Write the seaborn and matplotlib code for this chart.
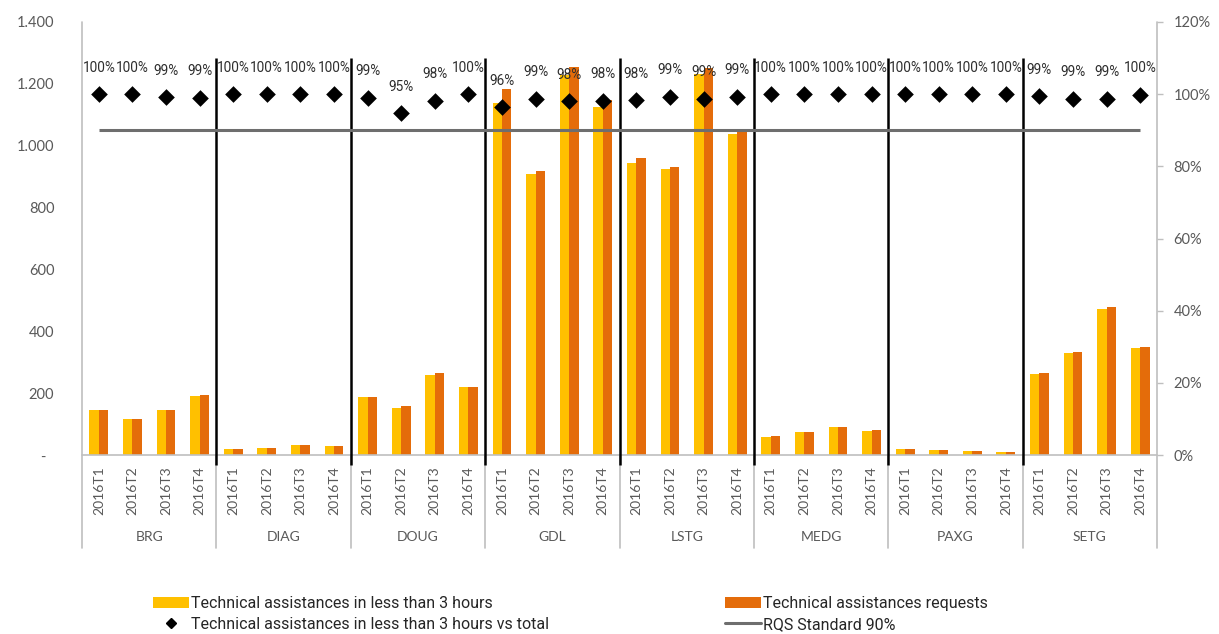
import matplotlib
matplotlib.use("Agg")
import matplotlib.pyplot as plt
from matplotlib.lines import Line2D
from matplotlib.patches import Patch
import matplotlib.transforms as mtransforms
import numpy as np
import pandas as pd
import seaborn as sns

# ---- data ----
groups = ["BRG", "DIAG", "DOUG", "GDL", "LSTG", "MEDG", "PAXG", "SETG"]
quarters = ["2016T1", "2016T2", "2016T3", "2016T4"]

within_3h = [145, 118, 145, 191,
             19, 22, 31, 29,
             187, 152, 258, 221,
             1137, 908, 1228, 1126,
             943, 925, 1232, 1038,
             59, 75, 90, 79,
             19, 16, 14, 11,
             262, 329, 472, 347]

requests = [145, 118, 146, 194,
            19, 22, 31, 29,
            189, 160, 264, 221,
            1182, 918, 1255, 1148,
            959, 932, 1250, 1045,
            60, 76, 91, 80,
            19, 16, 14, 11,
            265, 332, 478, 348]

share_3h = [1.000, 1.000, 0.992, 0.990,
            1.000, 1.000, 1.000, 1.000,
            0.990, 0.947, 0.982, 1.000,
            0.964, 0.988, 0.981, 0.982,
            0.984, 0.993, 0.988, 0.993,
            1.000, 1.000, 1.000, 1.000,
            1.000, 1.000, 1.000, 1.000,
            0.994, 0.988, 0.987, 0.999]

rqs_standard = 0.90

label_within = "Technical assistances in less than 3 hours"
label_requests = "Technical assistances requests"
label_share = "Technical assistances in less than 3 hours vs total"
label_rqs = "RQS Standard 90%"

c_yellow = "#FFC000"
c_orange = "#E46C0A"
txt_col = "#595959"
axis_grey = "#BFBFBF"
rqs_grey = "#6E6E6E"
narrow = ["Roboto", "DejaVu Sans"]

sns.set_theme(style="white")
plt.rcParams["font.family"] = ["Lato", "DejaVu Sans"]

cats = [f"{g}|{q}" for g in groups for q in quarters]
n = len(cats)
pos = np.arange(n)

df = pd.DataFrame({
    "cat": cats * 2,
    "value": within_3h + requests,
    "series": [label_within] * n + [label_requests] * n,
})

fig = plt.figure(figsize=(12.19, 6.34), dpi=100)
ax = fig.add_axes([0.0673, 0.2823, 0.8819, 0.683])

sns.barplot(data=df, x="cat", y="value", hue="series", order=cats,
            hue_order=[label_within, label_requests],
            palette=[c_yellow, c_orange], saturation=1, width=0.56,
            linewidth=0, legend=False, ax=ax)

ax.set_ylim(0, 1400)
ax.set_xlim(-0.5, n - 0.5)
ax.set_xlabel("")
ax.set_ylabel("")
for s in ax.spines.values():
    s.set_visible(False)

yt = np.arange(0, 1401, 200)
ax.set_yticks(yt)
ax.set_yticklabels(["-  "] + [f"{v:,}".replace(",", ".") for v in yt[1:]])
ax.tick_params(axis="y", length=0, pad=20, labelsize=10.5, labelcolor=txt_col)
ax.set_xticks(pos)
ax.set_xticklabels(quarters * len(groups), rotation=90)
ax.tick_params(axis="x", length=0, pad=8, labelsize=10, labelcolor=txt_col)

# frame lines and group dividers below the axis
bottom_ext = -0.215
ax.plot([0, 1], [0, 0], transform=ax.transAxes, color=axis_grey, lw=1.2, clip_on=False)
for xa in (0, 1):
    ax.plot([xa, xa], [bottom_ext, 1], transform=ax.transAxes, color=axis_grey,
            lw=1.2, clip_on=False)
trans = mtransforms.blended_transform_factory(ax.transData, ax.transAxes)
bounds = [4 * k - 0.5 for k in range(1, len(groups))]
for b in bounds:
    ax.plot([b, b], [bottom_ext, 0], transform=trans, color=axis_grey, lw=1.2,
            clip_on=False)
for k, g in enumerate(groups):
    ax.text(4 * k + 1.5, -0.189, g, transform=trans, ha="center", va="center",
            fontsize=10, color=txt_col)

# black separators between groups
ax.vlines(bounds, -32, 1282, colors="black", linewidth=1.8, clip_on=False, zorder=5)

# secondary axis with the share and the standard
ax2 = ax.twinx()
ax2.set_ylim(0, 1.2)
for s in ax2.spines.values():
    s.set_visible(False)
ax2.plot([pos[0], pos[-1]], [rqs_standard, rqs_standard], color=rqs_grey, lw=2.2,
         solid_capstyle="butt", zorder=2)
sns.scatterplot(x=pos, y=share_3h, marker="D", color="black", s=72,
                edgecolor="black", linewidth=0, legend=False, ax=ax2, zorder=4)
for x, p in zip(pos, share_3h):
    ax2.annotate(f"{p:.0%}", (x, p), xytext=(0, 19), textcoords="offset points",
                 ha="center", va="center", fontsize=9.8, color="#2E2E2E",
                 family=narrow)
ax2.set_xlim(-0.5, n - 0.5)
rt = np.arange(0, 1.21, 0.2)
ax2.set_yticks(rt)
ax2.set_yticklabels([f"{v:.0%}" for v in rt])
ax2.tick_params(axis="y", right=True, length=4, width=1, color=axis_grey, pad=8,
                labelsize=10.5, labelcolor=txt_col)
ax2.set_ylabel("")

# legend: two columns placed independently
leg_kw = dict(loc="center left", frameon=False, borderpad=0, borderaxespad=0,
              handlelength=2.25, handleheight=0.62, handletextpad=0.12,
              labelspacing=0.35, labelcolor="#262626",
              prop={"family": narrow, "size": 11.5})
col1 = [
    Patch(facecolor=c_yellow, edgecolor="none", label=label_within),
    Line2D([], [], marker="D", color="black", linestyle="none", markersize=5.5,
           label=label_share),
]
col2 = [
    Patch(facecolor=c_orange, edgecolor="none", label=label_requests),
    Line2D([], [], color=rqs_grey, lw=2.2, label=label_rqs),
]
fig.legend(handles=col1, bbox_to_anchor=(153 / 1219, 0.0315), **leg_kw)
fig.legend(handles=col2, bbox_to_anchor=(725 / 1219, 0.0315), **leg_kw)

fig.savefig("out.png", dpi=100)
